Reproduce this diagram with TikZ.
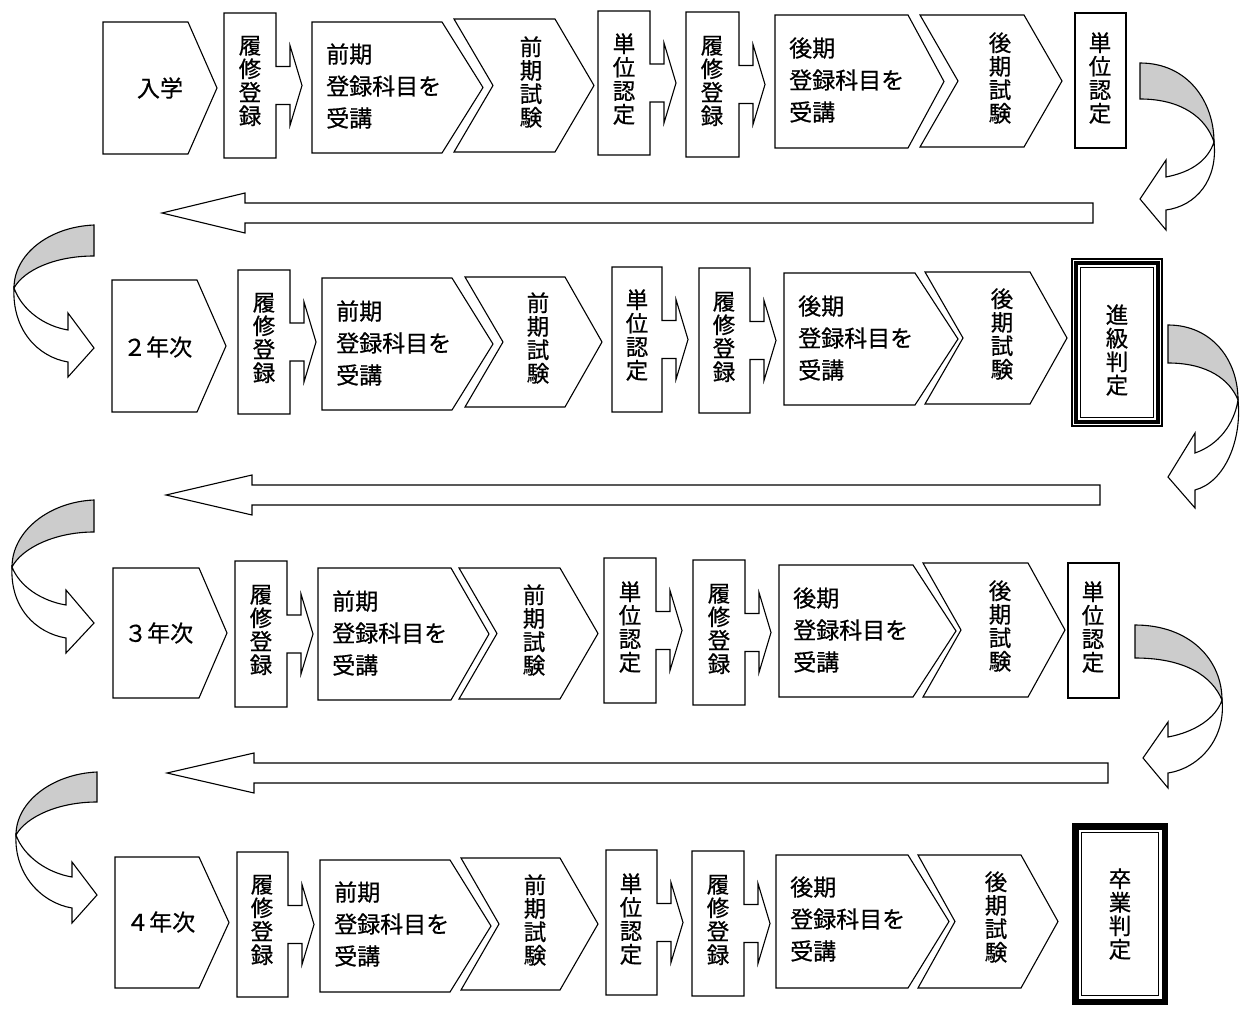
\documentclass[tikz,border=0pt]{standalone}
\usepackage{fontspec}
\setmainfont{Noto Sans CJK JP}[FakeBold=0.6]
\tikzset{
 shp/.style={draw=black, line width=1.1pt, fill=white, line join=miter},
 ribbon/.style={draw=black, line width=1.1pt, fill=gray!40},
 vtxt/.style={inner sep=0pt, align=center, font=\fontsize{22.5}{23.5}\selectfont},
 htxt/.style={inner sep=0pt, anchor=west, align=left, font=\fontsize{23}{32}\selectfont},
 ctxt/.style={inner sep=0pt, font=\fontsize{23}{26}\selectfont},
}
\newcommand{\PentS}[5]{\draw[shp] (#1,#2) -- (#3,#2) -- (#5,{(#2+#4)/2}) -- (#3,#4) -- (#1,#4) -- cycle;}
\newcommand{\ChevS}[6]{\draw[shp] (#1,#2) -- (#3,#2) -- (#5,{(#2+#4)/2}) -- (#3,#4) -- (#1,#4) -- ({#1+#6},{(#2+#4)/2}) -- cycle;}
\newcommand{\CallS}[4]{\draw[shp] (#1,#2) -- (#3,#2) -- (#3,{(#2+#4)/2-19}) -- ({#3+14},{(#2+#4)/2-19}) -- ({#3+14},{(#2+#4)/2-40}) -- ({#3+26},{(#2+#4)/2}) -- ({#3+14},{(#2+#4)/2+40}) -- ({#3+14},{(#2+#4)/2+19}) -- (#3,{(#2+#4)/2+19}) -- (#3,#4) -- (#1,#4) -- cycle;}
\begin{document}
\begin{tikzpicture}[x=1pt,y=-1pt]
\useasboundingbox (0,0) rectangle (1240,1011);

% ---------- Row 1 ----------
\PentS{103}{22}{188}{154}{217}
\CallS{224}{13}{276}{158}
\PentS{312}{22}{442}{153}{483}
\ChevS{454}{19}{555}{152}{594}{39}
\CallS{598}{11}{650}{155}
\CallS{686}{12}{739}{157}
\PentS{775}{15}{908}{148}{944}
\ChevS{920}{15}{1024}{147}{1062}{38}
\draw[shp] (1075,13) rectangle (1126,148);

\node[ctxt] (r1s) at (160,88) {入学};
\node[vtxt] (r1a) at (250,81) {履\\修\\登\\録};
\node[htxt] (r1b) at (326,86) {前期\\登録科目を\\受講};
\node[vtxt] (r1c) at (531,82) {前\\期\\試\\験};
\node[vtxt] (r1d) at (624,79) {単\\位\\認\\定};
\node[vtxt] (r1e) at (712,81) {履\\修\\登\\録};
\node[htxt] (r1f) at (789,80) {後期\\登録科目を\\受講};
\node[vtxt] (r1g) at (1000,78) {後\\期\\試\\験};
\node[vtxt] (r1h) at (1100,78) {単\\位\\認\\定};

% curved arrow right 1
\draw[ribbon] (1140,63) .. controls (1188,63) and (1214,102) .. (1214,142) .. controls (1206,118) and (1182,99) .. (1140,99) -- cycle;
\draw[shp] (1214,142) .. controls (1218,180) and (1196,206) .. (1166,210) -- (1166,230) -- (1140,199) -- (1166,160) -- (1166,177) .. controls (1192,172) and (1208,160) .. (1214,142) -- cycle;
% long arrow 1
\draw[shp] (162,213) -- (245,193) -- (245,203) -- (1093,203) -- (1093,223) -- (245,223) -- (245,233) -- cycle;

% ---------- Row 2 ----------
\draw[ribbon] (94,225) .. controls (48,227) and (14,255) .. (14,288) .. controls (24,270) and (55,256) .. (94,256) -- cycle;
\draw[shp] (14,288) .. controls (12,330) and (38,357) .. (68,362) -- (68,377) -- (94,348) -- (68,313) -- (68,330) .. controls (44,326) and (22,310) .. (14,288) -- cycle;

\PentS{112}{280}{197}{412}{226}
\CallS{238}{270}{290}{414}
\PentS{322}{278}{452}{410}{493}
\ChevS{465}{277}{565}{407}{602}{38}
\CallS{612}{267}{662}{412}
\CallS{699}{268}{750}{413}
\PentS{784}{273}{915}{405}{958}
\ChevS{925}{272}{1030}{404}{1067}{38}
\draw[draw=black, line width=1.5pt, fill=white] (1072,259) rectangle (1162,426);
\draw[draw=black, line width=4pt] (1076,263) rectangle (1158,422);
\draw[draw=black, line width=1.2pt] (1080.5,267.5) rectangle (1153.5,417.5);

\node[ctxt] (r2s) [anchor=west] at (123,347) {２年次};
\node[vtxt] (r2a) at (264,338) {履\\修\\登\\録};
\node[htxt] (r2b) at (336,343) {前期\\登録科目を\\受講};
\node[vtxt] (r2c) at (538,338) {前\\期\\試\\験};
\node[vtxt] (r2d) at (637,335) {単\\位\\認\\定};
\node[vtxt] (r2e) at (724,337) {履\\修\\登\\録};
\node[htxt] (r2f) at (798,338) {後期\\登録科目を\\受講};
\node[vtxt] (r2g) at (1002,334) {後\\期\\試\\験};
\node[vtxt] (r2h) at (1117,350) {進\\級\\判\\定};

% curved arrow right 2
\draw[ribbon] (1168,325) .. controls (1212,325) and (1238,360) .. (1238,400) .. controls (1230,380) and (1208,363) .. (1168,363) -- cycle;
\draw[shp] (1238,400) .. controls (1242,440) and (1225,482) .. (1195,490) -- (1195,508) -- (1168,477) -- (1195,433) -- (1195,453) .. controls (1218,445) and (1234,425) .. (1238,400) -- cycle;
% long arrow 2
\draw[shp] (166,495) -- (252,475) -- (252,485) -- (1100,485) -- (1100,505) -- (252,505) -- (252,515) -- cycle;

% ---------- Row 3 ----------
\draw[ribbon] (94,500) .. controls (48,502) and (12,532) .. (12,567) .. controls (22,548) and (55,532) .. (94,532) -- cycle;
\draw[shp] (12,567) .. controls (10,608) and (36,633) .. (66,638) -- (66,653) -- (94,623) -- (66,590) -- (66,605) .. controls (42,601) and (20,587) .. (12,567) -- cycle;

\PentS{113}{568}{199}{698}{227}
\CallS{235}{561}{287}{707}
\PentS{318}{568}{451}{700}{489}
\ChevS{459}{568}{560}{699}{598}{38}
\CallS{604}{558}{656}{703}
\CallS{693}{560}{745}{705}
\PentS{779}{565}{913}{697}{956}
\ChevS{923}{563}{1028}{697}{1065}{38}
\draw[shp] (1068,563) rectangle (1119,698);

\node[ctxt] (r3s) [anchor=west] at (124,633) {３年次};
\node[vtxt] (r3a) at (261,630) {履\\修\\登\\録};
\node[htxt] (r3b) at (332,633) {前期\\登録科目を\\受講};
\node[vtxt] (r3c) at (534,630) {前\\期\\試\\験};
\node[vtxt] (r3d) at (630,627) {単\\位\\認\\定};
\node[vtxt] (r3e) at (719,629) {履\\修\\登\\録};
\node[htxt] (r3f) at (793,630) {後期\\登録科目を\\受講};
\node[vtxt] (r3g) at (1000,626) {後\\期\\試\\験};
\node[vtxt] (r3h) at (1093,627) {単\\位\\認\\定};

% curved arrow right 3
\draw[ribbon] (1135,625) .. controls (1190,625) and (1222,660) .. (1222,700) .. controls (1212,676) and (1185,658) .. (1135,658) -- cycle;
\draw[shp] (1222,700) .. controls (1226,738) and (1200,768) .. (1168,773) -- (1168,788) -- (1143,758) -- (1168,722) -- (1168,737) .. controls (1195,732) and (1216,718) .. (1222,700) -- cycle;
% long arrow 3
\draw[shp] (167,773) -- (254,753) -- (254,763) -- (1108,763) -- (1108,783) -- (254,783) -- (254,793) -- cycle;

% ---------- Row 4 ----------
\draw[ribbon] (97,772) .. controls (52,774) and (16,802) .. (16,835) .. controls (26,817) and (58,802) .. (97,802) -- cycle;
\draw[shp] (16,835) .. controls (14,875) and (42,903) .. (72,908) -- (72,923) -- (97,895) -- (72,862) -- (72,877) .. controls (48,873) and (24,857) .. (16,835) -- cycle;

\PentS{115}{857}{199}{988}{229}
\CallS{237}{852}{288}{997}
\PentS{320}{860}{450}{992}{491}
\ChevS{461}{858}{560}{990}{598}{38}
\CallS{606}{850}{657}{995}
\CallS{692}{851}{744}{996}
\PentS{776}{855}{908}{988}{949}
\ChevS{918}{855}{1021}{988}{1058}{37}
\draw[draw=black, line width=6.5pt, fill=white] (1075.25,826.25) rectangle (1164.75,1001.75);
\draw[draw=black, line width=1.5pt] (1081.5,832.5) rectangle (1158.5,995.5);

\node[ctxt] (r4s) [anchor=west] at (126,922) {４年次};
\node[vtxt] (r4a) at (262,920) {履\\修\\登\\録};
\node[htxt] (r4b) at (334,924) {前期\\登録科目を\\受講};
\node[vtxt] (r4c) at (535,920) {前\\期\\試\\験};
\node[vtxt] (r4d) at (631,919) {単\\位\\認\\定};
\node[vtxt] (r4e) at (718,920) {履\\修\\登\\録};
\node[htxt] (r4f) at (790,919) {後期\\登録科目を\\受講};
\node[vtxt] (r4g) at (996,917) {後\\期\\試\\験};
\node[vtxt] (r4h) at (1120,914) {卒\\業\\判\\定};
\end{tikzpicture}
\end{document}
